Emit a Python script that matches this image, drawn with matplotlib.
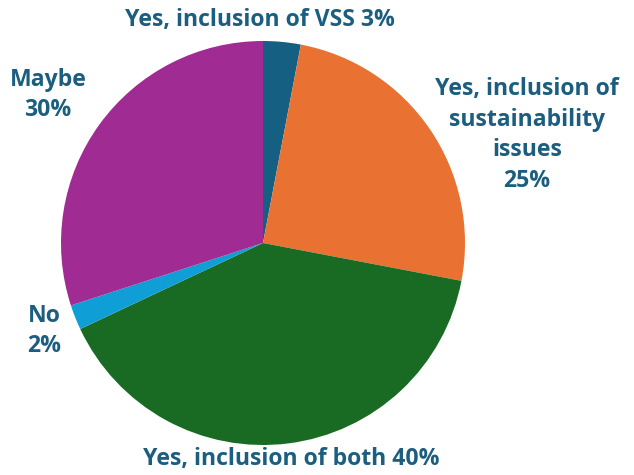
import matplotlib.pyplot as plt

labels = ["Yes, inclusion of VSS", "Yes, inclusion of sustainability issues",
          "Yes, inclusion of both", "No", "Maybe"]
values = [3, 25, 40, 2, 30]
colors = ["#156082", "#E97132", "#196B24", "#0F9ED5", "#A02B93"]

text_color = "#1B5E80"

fig = plt.figure(figsize=(6.34, 4.75), dpi=100)
ax = fig.add_axes([0, 0, 1, 1])

ax.pie(values, colors=colors, startangle=90, counterclock=False,
       center=(263, 232), radius=202, frame=True,
       wedgeprops=dict(linewidth=0))
ax.set_xlim(0, 634)
ax.set_ylim(0, 475)
ax.set_aspect("equal")
ax.axis("off")

font = dict(family="Open Sans", fontweight="bold", fontsize=16.6,
            color=text_color, ha="center", va="center", linespacing=1.38)

ax.text(260, 455, f"{labels[0]} {values[0]}%", **font)
ax.text(527, 340, "Yes, inclusion of\nsustainability\nissues\n" + f"{values[1]}%", **font)
ax.text(291, 16, f"{labels[2]} {values[2]}%", **font)
ax.text(44, 144, f"{labels[3]}\n{values[3]}%", **font)
ax.text(48, 380, f"{labels[4]}\n{values[4]}%", **font)

fig.savefig("out.png", dpi=100)
